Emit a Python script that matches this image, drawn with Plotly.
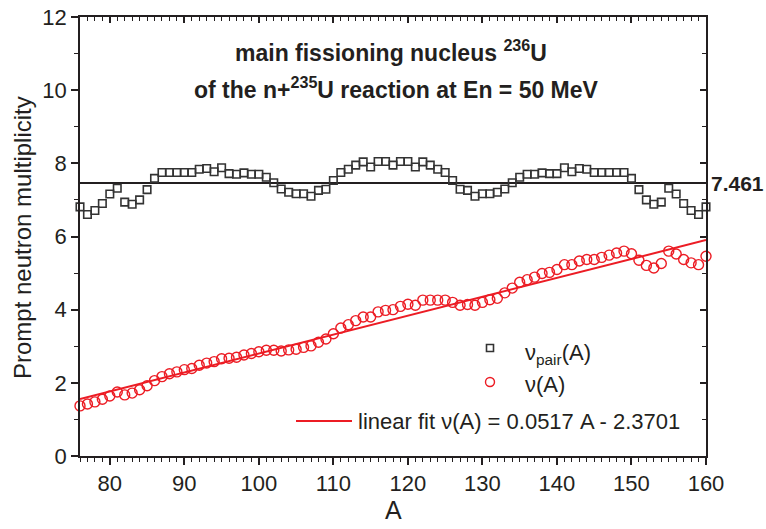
import plotly.graph_objects as go

# Mass number of the fission fragment
mass_number = list(range(76, 161))

# Pair multiplicity nu_pair(A) = nu(A) + nu(236 - A)
nu_pair = [
    6.81, 6.60, 6.71, 6.90, 7.16, 7.32, 6.94, 6.88, 7.00, 7.28,
    7.59, 7.75, 7.75, 7.75, 7.75, 7.75, 7.84, 7.86, 7.77, 7.88,
    7.72, 7.70, 7.74, 7.70, 7.70, 7.62, 7.47, 7.30, 7.21, 7.17,
    7.17, 7.10, 7.26, 7.29, 7.53, 7.75, 7.84, 7.95, 8.04, 7.90,
    8.05, 8.05, 7.95, 8.05, 8.05, 7.90, 8.04, 7.95, 7.84, 7.75,
    7.53, 7.29, 7.26, 7.10, 7.17, 7.17, 7.21, 7.30, 7.47, 7.62,
    7.70, 7.70, 7.74, 7.72, 7.72, 7.88, 7.77, 7.86, 7.84, 7.75,
    7.75, 7.75, 7.75, 7.75, 7.59, 7.28, 7.00, 6.88, 6.94, 7.32,
    7.16, 6.90, 6.71, 6.60, 6.81,
]

# Fragment multiplicity nu(A)
nu_single = [
    1.37, 1.42, 1.48, 1.55, 1.64, 1.75, 1.67, 1.72, 1.81, 1.92,
    2.06, 2.17, 2.25, 2.30, 2.36, 2.39, 2.48, 2.54, 2.58, 2.66,
    2.67, 2.70, 2.76, 2.80, 2.85, 2.89, 2.89, 2.87, 2.90, 2.92,
    2.97, 3.01, 3.11, 3.20, 3.34, 3.50, 3.59, 3.70, 3.80, 3.80,
    3.94, 3.98, 4.00, 4.09, 4.15, 4.12, 4.26, 4.26, 4.26, 4.26,
    4.20, 4.12, 4.14, 4.12, 4.20, 4.27, 4.31, 4.46, 4.59, 4.75,
    4.82, 4.89, 4.99, 5.02, 5.10, 5.23, 5.23, 5.33, 5.37, 5.37,
    5.43, 5.49, 5.55, 5.60, 5.53, 5.35, 5.21, 5.14, 5.26, 5.60,
    5.52, 5.37, 5.28, 5.23, 5.46,
]

# Average pair multiplicity and linear fit of nu(A)
NU_PAIR_MEAN = 7.461
FIT_SLOPE = 0.0517
FIT_INTERCEPT = -2.3701

x_ticks = [80, 90, 100, 110, 120, 130, 140, 150, 160]
y_ticks = [0, 2, 4, 6, 8, 10, 12]

X_RANGE = [76, 160]
Y_RANGE = [0, 12]

RED = "#ec1c24"
INK = "#231f20"
FONT = "Liberation Sans, Arial, sans-serif"

# Figure and plot-area geometry in pixels
FIG_W, FIG_H = 766, 529
M_L, M_R, M_T, M_B = 80, 60, 17, 73
AREA_W = FIG_W - M_L - M_R
AREA_H = FIG_H - M_T - M_B


def fx(xp):
    """Pixel column -> plot-area paper fraction."""
    return (xp - M_L) / AREA_W


def fy(yp):
    """Pixel row -> plot-area paper fraction."""
    return (FIG_H - M_B - yp) / AREA_H


fit_x = [X_RANGE[0], X_RANGE[1]]
fit_y = [FIT_SLOPE * a + FIT_INTERCEPT for a in fit_x]

fig = go.Figure()

fig.add_trace(go.Scatter(
    x=fit_x, y=fit_y, mode="lines",
    line=dict(color=RED, width=2), showlegend=False,
))
fig.add_trace(go.Scatter(
    x=fit_x, y=[NU_PAIR_MEAN, NU_PAIR_MEAN], mode="lines",
    line=dict(color=INK, width=2), showlegend=False,
))
fig.add_trace(go.Scatter(
    x=mass_number, y=nu_pair, mode="markers", cliponaxis=False,
    marker=dict(symbol="square-open", size=7.5, color="#333333",
                line=dict(width=1.6, color="#333333")),
    showlegend=False,
))
fig.add_trace(go.Scatter(
    x=mass_number, y=nu_single, mode="markers", cliponaxis=False,
    marker=dict(symbol="circle-open", size=10, color=RED,
                line=dict(width=1.4, color=RED)),
    showlegend=False,
))

axis_common = dict(
    showgrid=False, zeroline=False, showline=True, automargin=False,
    linecolor=INK, linewidth=1.5, tickcolor=INK, tickwidth=1.5,
)

fig.update_layout(
    width=FIG_W, height=FIG_H,
    margin=dict(l=M_L, r=M_R, t=M_T, b=M_B),
    paper_bgcolor="white", plot_bgcolor="white",
    font=dict(family=FONT, color=INK),
    xaxis=dict(
        range=X_RANGE, tickvals=x_ticks, ticks="outside", ticklen=7,
        minor=dict(dtick=1, ticks="outside", ticklen=4, tickcolor=INK, tickwidth=1),
        tickfont=dict(size=22, family=FONT, color=INK),
        **axis_common,
    ),
    yaxis=dict(
        range=Y_RANGE, tickvals=y_ticks, ticks="outside", ticklen=7,
        minor=dict(dtick=1, ticks="outside", ticklen=4, tickcolor=INK, tickwidth=1),
        tickfont=dict(size=22, family=FONT, color=INK),
        **axis_common,
    ),
    xaxis2=dict(
        range=X_RANGE, overlaying="x", side="top", tickvals=x_ticks,
        ticks="inside", ticklen=6, showticklabels=False,
        minor=dict(dtick=1, ticks="inside", ticklen=4, tickcolor=INK, tickwidth=1),
        **axis_common,
    ),
    yaxis2=dict(
        range=Y_RANGE, overlaying="y", side="right", tickvals=y_ticks,
        ticks="inside", ticklen=6, showticklabels=False,
        minor=dict(dtick=1, ticks="inside", ticklen=4, tickcolor=INK, tickwidth=1),
        **axis_common,
    ),
)

# Invisible carrier so the mirrored top/right axes are drawn
fig.add_trace(go.Scatter(x=X_RANGE, y=Y_RANGE, xaxis="x2", yaxis="y2",
                         mode="lines", line=dict(width=0), hoverinfo="skip",
                         showlegend=False))


def label(xp, yp, text, size, xanchor="center", bold=False, angle=0):
    fig.add_annotation(
        x=fx(xp), y=fy(yp), xref="paper", yref="paper", showarrow=False,
        xanchor=xanchor, yanchor="middle", textangle=angle,
        text=f"<b>{text}</b>" if bold else text,
        font=dict(size=size, family=FONT, color=INK),
    )


# Axis titles
label(393, 510, "A", 25)
label(22, 238, "Prompt neutron multiplicity", 24, angle=-90)

# Header text
label(391, 51, "main fissioning nucleus <sup>236</sup>U", 23, bold=True)
label(396, 88, "of the n+<sup>235</sup>U reaction at En = 50 MeV", 23, bold=True)

# Value label for the mean line
fig.add_annotation(
    x=1.0, y=NU_PAIR_MEAN, xref="x domain", yref="y", xanchor="left",
    yanchor="middle", xshift=3, showarrow=False,
    text=f"<b>{NU_PAIR_MEAN:.3f}</b>",
    font=dict(size=21, family=FONT, color=INK),
)

# Legend block
fig.add_shape(type="rect", xref="paper", yref="paper",
              x0=fx(486.5), x1=fx(493.5), y0=fy(351.5), y1=fy(344.5),
              line=dict(color="#333333", width=1.6))
label(523, 354, "ν<sub>pair</sub>(A)", 22, xanchor="left")
fig.add_shape(type="circle", xref="paper", yref="paper",
              x0=fx(485.5), x1=fx(494.5), y0=fy(386.5), y1=fy(377.5),
              line=dict(color=RED, width=1.4))
label(523, 384, "ν(A)", 22, xanchor="left")
fig.add_shape(type="line", xref="paper", yref="paper",
              x0=fx(296), x1=fx(352), y0=fy(421), y1=fy(421),
              line=dict(color=RED, width=2))
label(356, 421, "linear fit ν(A) = 0.0517 A - 2.3701", 22, xanchor="left")

fig.write_html("out.html")
